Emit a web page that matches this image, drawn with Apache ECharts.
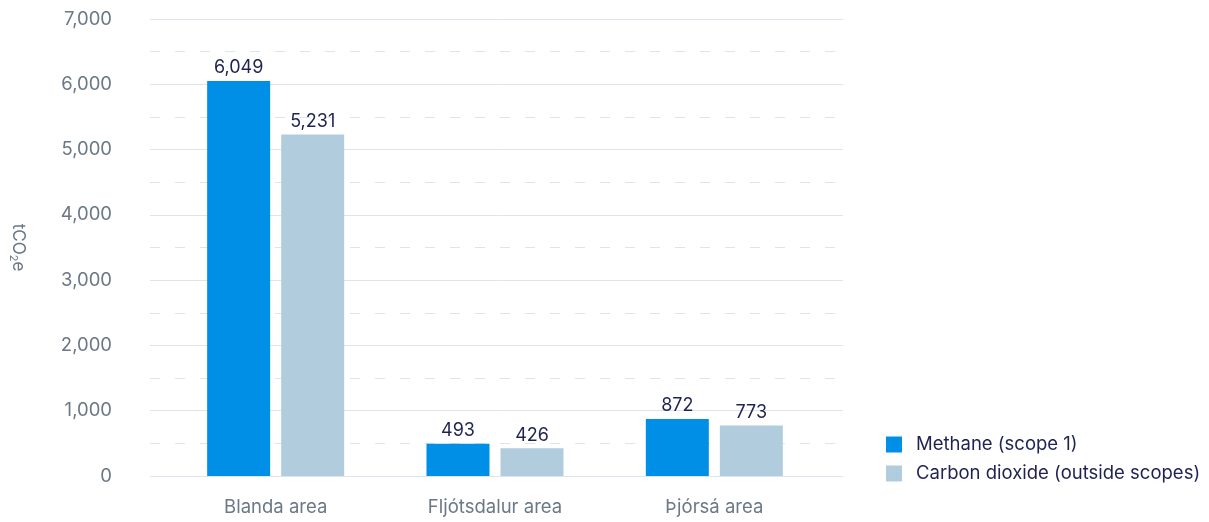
<!DOCTYPE html>
<html><head><meta charset="utf-8">
<script src="https://cdn.jsdelivr.net/npm/echarts@6/dist/echarts.min.js"></script>
<style>html,body{margin:0;padding:0;background:#fff}#c{width:1209px;height:522px}</style>
</head><body><div id="c"></div>
<script>
const categories = ['Blanda area', 'Fljótsdalur area', 'Þjórsá area'];
const methane = [6049, 493, 872];
const carbonDioxide = [5231, 426, 773];
const seriesNames = ['Methane (scope 1)', 'Carbon dioxide (outside scopes)'];
const yMin = 0, yMax = 7000, yInterval = 1000;

const FONT = 'Inter, sans-serif';
const GRAY = '#6b7885', NAVY = '#1f2352';
const chart = echarts.init(document.getElementById('c'));
chart.setOption({
  animation: false,
  grid: [
    {left: 147, width: 696, top: 19, bottom: 46},
    {left: 166, width: 658, top: 19, bottom: 46}
  ],
  xAxis: [
    {gridIndex: 0, type: 'category', data: categories, show: false},
    {gridIndex: 1, type: 'category', data: categories,
     axisLine: {show: false}, axisTick: {show: false},
     axisLabel: {color: GRAY, fontSize: 18.5, fontFamily: FONT, margin: 22}}
  ],
  yAxis: [
    {gridIndex: 0, type: 'value', min: yMin, max: yMax, interval: yInterval,
     axisLine: {show: false}, axisTick: {show: false},
     axisLabel: {color: GRAY, fontSize: 18.5, fontFamily: FONT, margin: 38,
       formatter: v => v.toLocaleString('en-US')},
     splitLine: {lineStyle: {color: '#dde4eb', width: 1}},
     minorTick: {show: false, splitNumber: 2},
     minorSplitLine: {show: true, lineStyle: {color: '#dde4eb', width: 1, type: [10, 15]}},
     name: '{a|tCO}{b|2}{a|e}', nameLocation: 'middle', nameRotate: -90, nameGap: 122,
     nameTextStyle: {rich: {
       a: {color: GRAY, fontSize: 17, fontFamily: FONT},
       b: {color: GRAY, fontSize: 11, fontFamily: FONT, verticalAlign: 'bottom', padding: [9,0,0,0]}
     }}},
    {gridIndex: 1, type: 'value', min: yMin, max: yMax, interval: yInterval, show: false, splitLine: {show: false}}
  ],
  legend: {
    orient: 'vertical', left: 881, top: 430, itemWidth: 16, itemHeight: 16, itemGap: 10,
    icon: 'rect',
    textStyle: {color: NAVY, fontSize: 18.5, fontFamily: FONT, lineHeight: 16, padding: [0, 0, 0, 9]},
    data: seriesNames
  },
  series: [
    {name: seriesNames[0], type: 'bar', xAxisIndex: 1, yAxisIndex: 1, data: methane,
     barWidth: 63, barGap: '17.5%', itemStyle: {color: '#008fe6'},
     label: {show: true, position: 'top', distance: 4, color: NAVY, fontSize: 18, fontFamily: FONT,
       formatter: p => p.value.toLocaleString('en-US')}},
    {name: seriesNames[1], type: 'bar', xAxisIndex: 1, yAxisIndex: 1, data: carbonDioxide,
     barWidth: 63, barGap: '17.5%', itemStyle: {color: '#b1cddd'},
     label: {show: true, position: 'top', distance: 4, color: NAVY, fontSize: 18, fontFamily: FONT,
       formatter: p => p.value.toLocaleString('en-US')}}
  ]
});
</script></body></html>
